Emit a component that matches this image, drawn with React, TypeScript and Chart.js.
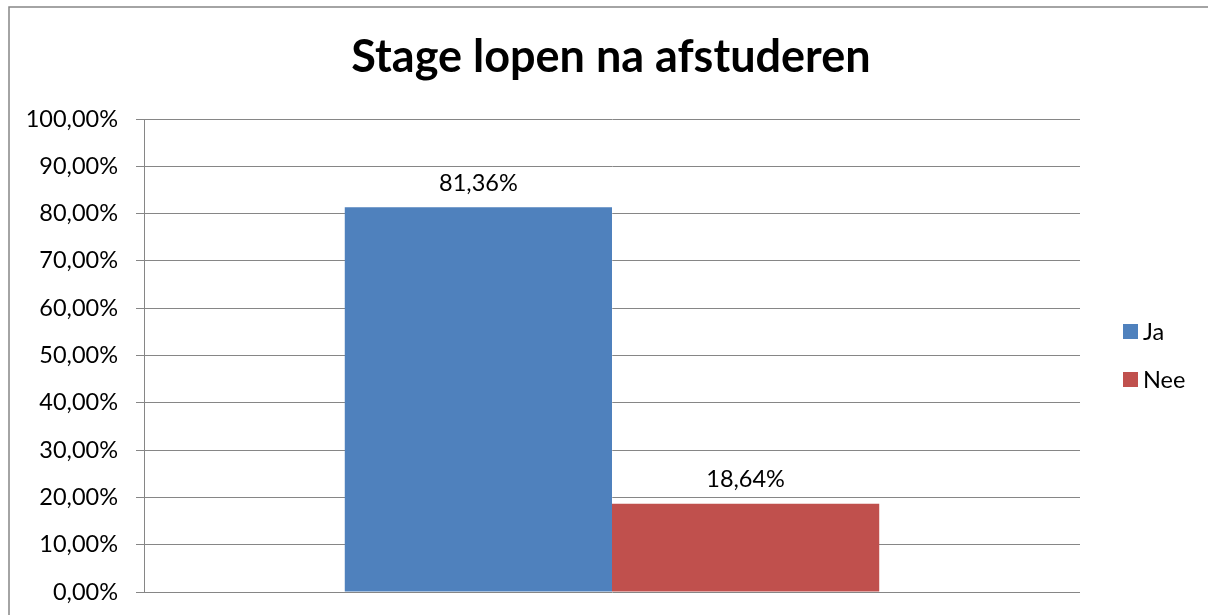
import React, { useEffect, useRef } from "react";
import { Chart, registerables } from "chart.js";

Chart.register(...registerables);

const chartTitle = "Stage lopen na afstuderen";
const categories = [""];
const seriesNames = ["Ja", "Nee"];
const jaValues = [81.36];
const neeValues = [18.64];
const seriesColors = ["#4F81BD", "#C0504D"];
const yMin = 0;
const yMax = 100;
const yStep = 10;

const FONT = "Lato, 'Open Sans', sans-serif";
const TEXT_SIZE = 23.5;

const fmt = (v: number) => v.toFixed(2).replace(".", ",") + "%";

const framePlugin = {
  id: "frame",
  beforeDraw(chart: any) {
    const ctx = chart.ctx;
    ctx.save();
    ctx.fillStyle = "#ffffff";
    ctx.fillRect(0, 0, chart.width, chart.height);
    ctx.strokeStyle = "#868686";
    ctx.lineWidth = 1.5;
    ctx.strokeRect(9, 7, chart.width + 20, chart.height + 20);
    ctx.restore();
  },
};

const dataLabelPlugin = {
  id: "dataLabels",
  afterDatasetsDraw(chart: any) {
    const ctx = chart.ctx;
    ctx.save();
    ctx.font = `${TEXT_SIZE}px ${FONT}`;
    ctx.fillStyle = "#000000";
    ctx.textAlign = "center";
    ctx.textBaseline = "middle";
    chart.data.datasets.forEach((ds: any, i: number) => {
      const meta = chart.getDatasetMeta(i);
      meta.data.forEach((el: any, j: number) => {
        ctx.fillText(fmt(ds.data[j]), el.x, el.y - 24);
      });
    });
    ctx.restore();
  },
};

const legendPlugin = {
  id: "sideLegend",
  afterDraw(chart: any) {
    const ctx = chart.ctx;
    const area = chart.chartArea;
    const n = chart.data.datasets.length;
    const spacing = 48;
    const box = 15;
    const cx = area.right + 43;
    const midY = (area.top + area.bottom) / 2;
    const startY = midY - ((n - 1) * spacing) / 2;
    ctx.save();
    ctx.font = `${TEXT_SIZE}px ${FONT}`;
    ctx.textAlign = "left";
    ctx.textBaseline = "middle";
    chart.data.datasets.forEach((ds: any, i: number) => {
      const y = startY + i * spacing;
      ctx.fillStyle = ds.backgroundColor;
      ctx.fillRect(cx, y - box / 2, box, box);
      ctx.fillStyle = "#000000";
      ctx.fillText(ds.label, cx + box + 5, y + 1);
    });
    ctx.restore();
  },
};

export default function App() {
  const canvasRef = useRef<HTMLCanvasElement | null>(null);

  useEffect(() => {
    if (!canvasRef.current) return;
    const chart = new Chart(canvasRef.current, {
      type: "bar",
      data: {
        labels: categories,
        datasets: [
          {
            label: seriesNames[0],
            data: jaValues,
            backgroundColor: seriesColors[0],
            categoryPercentage: 0.571,
            barPercentage: 1,
          },
          {
            label: seriesNames[1],
            data: neeValues,
            backgroundColor: seriesColors[1],
            categoryPercentage: 0.571,
            barPercentage: 1,
          },
        ],
      },
      options: {
        responsive: false,
        animation: false,
        layout: { padding: { left: 14, right: 0, top: 0, bottom: 0 } },
        plugins: {
          legend: { display: false },
          tooltip: { enabled: false },
          title: {
            display: true,
            text: chartTitle,
            color: "#000000",
            font: { family: FONT, size: 45, weight: "bold", lineHeight: 1.2 },
            padding: { top: 30, bottom: 35 },
          },
        },
        scales: {
          x: {
            grid: { display: false },
            border: { display: false },
            ticks: { display: false },
            afterFit: (s: any) => {
              s.height = 23;
            },
          },
          y: {
            min: yMin,
            max: yMax,
            ticks: {
              stepSize: yStep,
              callback: (v: any) => fmt(Number(v)),
              color: "#000000",
              font: { family: FONT, size: TEXT_SIZE },
              padding: 18,
            },
            grid: { color: "#868686", lineWidth: 1, tickLength: 8 },
            border: { color: "#868686", width: 1 },
            afterFit: (s: any) => {
              s.width = 130;
              s.paddingBottom = 12;
              s.paddingTop = 12;
            },
          },
          yRightSpace: {
            position: "right",
            display: true,
            grid: { display: false },
            border: { display: false },
            ticks: { display: false },
            afterFit: (s: any) => {
              s.width = 128;
            },
          },
        },
      },
      plugins: [framePlugin, dataLabelPlugin, legendPlugin],
    } as any);
    return () => chart.destroy();
  }, []);

  return (
    <div style={{ position: "absolute", left: 0, top: 0, width: 1208, height: 615, overflow: "hidden" }}>
      <canvas ref={canvasRef} width={1208} height={615} style={{ display: "block" }} />
    </div>
  );
}
